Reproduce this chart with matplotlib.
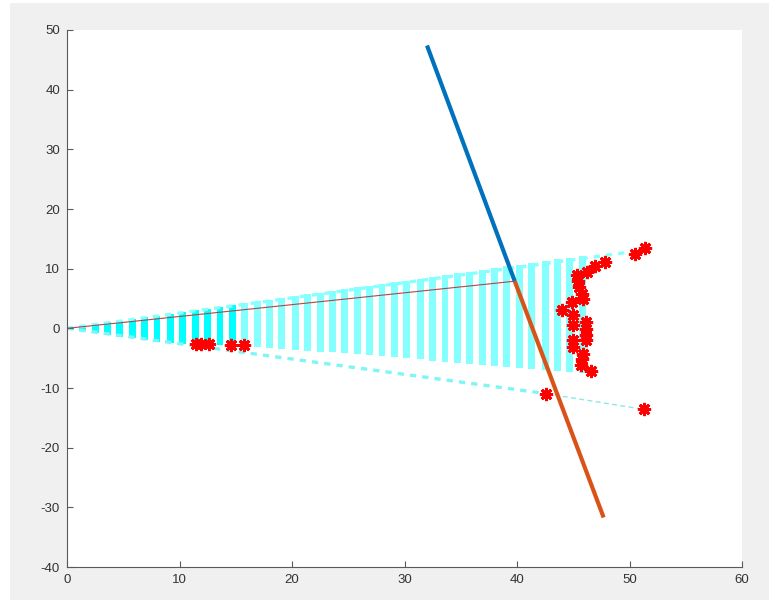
import matplotlib
matplotlib.use("Agg")
import matplotlib.pyplot as plt
from matplotlib.patches import Rectangle

plt.rcParams['font.family'] = ['Liberation Sans', 'DejaVu Sans']
plt.rcParams['lines.scale_dashes'] = False
plt.rcParams['axes.unicode_minus'] = False

# ---- data ----
bar_x = [0.3, 1.4, 2.5, 3.6, 4.7, 5.8, 6.9, 8.0, 9.2, 10.3, 11.4, 12.5, 13.6, 14.7,
         15.8, 16.9, 18.0, 19.1, 20.3, 21.4, 22.5, 23.6, 24.7, 25.8, 26.9, 28.0,
         29.1, 30.2, 31.4, 32.5, 33.6, 34.7, 35.8, 36.9, 38.0, 39.1, 40.2, 41.3,
         42.5, 43.6, 44.7, 45.8]
bar_top = [0.1, 0.4, 0.7, 1.0, 1.25, 1.55, 1.85, 2.1, 2.4, 2.7, 3.0, 3.3, 3.6, 3.9,
           4.2, 4.5, 4.8, 5.1, 5.4, 5.7, 5.95, 6.25, 6.55, 6.85, 7.15, 7.45,
           7.7, 8.0, 8.3, 8.6, 8.9, 9.2, 9.5, 9.8, 10.1, 10.4, 10.65, 10.95,
           11.25, 11.55, 11.85, 12.1]
bar_bottom = [-0.2, -0.5, -0.8, -1.1, -1.4, -1.7, -2.0, -2.3, -2.5, -2.7, -2.8, -2.85,
              -2.85, -2.9, -2.95, -3.1, -3.25, -3.4, -3.6, -3.8, -3.9, -4.05, -4.1,
              -4.3, -4.5, -4.7, -4.85, -5.05, -5.2, -5.4, -5.6, -5.8, -5.95, -6.1,
              -6.3, -6.5, -6.65, -6.85, -7.0, -7.2, -7.35, -7.5]

upper_edge_x = [0.0, 50.5]
upper_edge_y = [0.0, 12.9]
lower_edge_x = [0.0, 42.6]
lower_edge_y = [0.0, -10.95]
lower_tail_x = [42.6, 51.3]
lower_tail_y = [-10.95, -13.6]

ray_x = [0.0, 39.8]
ray_y = [0.0, 7.9]
blue_x = [32.0, 39.8]
blue_y = [47.4, 7.9]
orange_x = [39.8, 47.7]
orange_y = [7.9, -31.7]

pts_x = [11.5, 11.9, 12.65, 14.6, 15.7, 42.6, 51.3,
         51.4, 50.5, 47.8, 46.9, 46.2, 45.3, 45.4, 45.5, 45.75, 45.9, 44.9, 44.0,
         45.0, 45.0, 46.1, 46.1, 46.1, 46.1, 45.0, 45.0, 45.9, 45.8, 45.7, 46.55]
pts_y = [-2.7, -2.7, -2.68, -2.85, -2.85, -10.95, -13.6,
         13.5, 12.5, 11.1, 10.4, 9.4, 8.9, 8.0, 6.9, 5.8, 5.0, 4.4, 3.0,
         2.2, 0.5, 1.05, -0.05, -1.2, -2.0, -2.0, -3.1, -4.25, -5.1, -6.2, -7.15]

x_ticks = [0, 10, 20, 30, 40, 50, 60]
y_ticks = [-40, -30, -20, -10, 0, 10, 20, 30, 40, 50]

# ---- figure ----
W, H, DPI = 769, 606, 100
fig = plt.figure(figsize=(W / DPI, H / DPI), dpi=DPI, facecolor='white')
fig.patches.append(Rectangle((10 / W, 1 - 600 / H), 1 - 10 / W, (600 - 3) / H,
                             transform=fig.transFigure, facecolor='#f0f0f0',
                             edgecolor='none', zorder=-10))

ax = fig.add_axes([67 / W, 1 - 567 / H, (742 - 67) / W, (567 - 30) / H])
ax.set_facecolor('white')

vivid = '#00ffff'
pale = '#86ffff'
colors = [vivid if x < 15 else pale for x in bar_x]
heights = [t - b for t, b in zip(bar_top, bar_bottom)]
ax.bar(bar_x, heights, bottom=bar_bottom, width=0.62, color=colors,
       edgecolor='none', zorder=1)

ax.plot(upper_edge_x, upper_edge_y, color=pale, lw=2.4, ls=(0, (4.5, 4.4)), zorder=1.5)
ax.plot(lower_edge_x, lower_edge_y, color='#7ff5f5', lw=2.4, ls=(0, (4.5, 4.4)), zorder=1.5)
ax.plot(lower_tail_x, lower_tail_y, color='#8ee8e8', lw=1.0, ls=(0, (3.6, 2.4)), zorder=1.5)

ax.plot(ray_x, ray_y, color='#b04848', lw=0.8, zorder=2)
ax.plot(blue_x, blue_y, color='#0072BD', lw=3.0, solid_capstyle='butt', zorder=3)
ax.plot(orange_x, orange_y, color='#D95319', lw=3.0, solid_capstyle='butt', zorder=3)

ax.plot(pts_x, pts_y, ls='none', marker=(8, 2, 0), markersize=9.5, mew=2.0,
        color='#ff0000', zorder=4)

ax.set_xlim(0, 60)
ax.set_ylim(-40, 50)
ax.set_xticks(x_ticks)
ax.set_yticks(y_ticks)
ax.spines['top'].set_visible(False)
ax.spines['right'].set_visible(False)
for s in ('left', 'bottom'):
    ax.spines[s].set_color('#5a5a5a')
    ax.spines[s].set_linewidth(0.8)
ax.tick_params(direction='in', length=4, width=0.8, color='#5a5a5a',
               labelsize=9.5, labelcolor='#333333')
ax.tick_params(axis='x', pad=5)
ax.tick_params(axis='y', pad=5)

fig.savefig('out.png', dpi=DPI, facecolor=fig.get_facecolor())
